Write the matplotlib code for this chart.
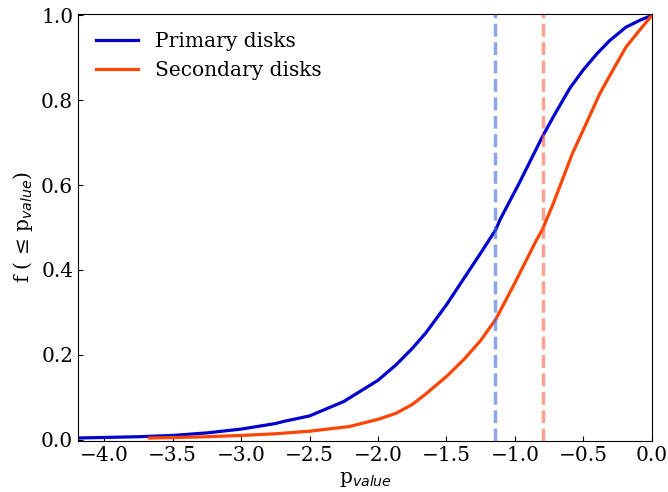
import numpy as np
import matplotlib.pyplot as plt

# cumulative fractions read per disk population
p_primary = [-4.19, -3.75, -3.5, -3.25, -3.0, -2.75, -2.69, -2.5, -2.25,
             -2.0, -1.87, -1.75, -1.65, -1.5, -1.25, -1.14, -1.11, -0.97, -0.8,
             -0.72, -0.6, -0.5, -0.4, -0.31, -0.19, -0.09, 0.0]
f_primary = [0.004, 0.007, 0.010, 0.016, 0.025, 0.038, 0.043, 0.056, 0.09,
             0.14, 0.176, 0.215, 0.252, 0.318, 0.44, 0.495, 0.518, 0.604, 0.714,
             0.761, 0.828, 0.872, 0.91, 0.94, 0.972, 0.988, 1.0]

p_secondary = [-3.67, -3.5, -3.25, -3.0, -2.75, -2.5, -2.21, -2.0, -1.87, -1.75,
               -1.65, -1.5, -1.37, -1.25, -1.14, -1.0, -0.844, -0.8, -0.72, -0.58,
               -0.48, -0.38, -0.285, -0.19, -0.09, 0.0]
f_secondary = [0.004, 0.005, 0.007, 0.010, 0.014, 0.02, 0.031, 0.048, 0.062, 0.083,
               0.108, 0.149, 0.19, 0.234, 0.284, 0.37, 0.47, 0.495, 0.557, 0.675,
               0.745, 0.816, 0.871, 0.925, 0.965, 1.0]

# medians of each sample
med_primary = -1.143
med_secondary = -0.796

plt.rcParams['font.family'] = 'DejaVu Serif'

fig = plt.figure(figsize=(6.68, 4.92), dpi=100)
ax = fig.add_axes([0.1168, 0.1037, 0.8592, 0.8678])

ax.plot(p_primary, f_primary, color='mediumblue', lw=2.3, label='Primary disks')
ax.plot(p_secondary, f_secondary, color='orangered', lw=2.3, label='Secondary disks')
ax.axvline(med_primary, color='royalblue', alpha=0.6, ls='--', lw=2.5)
ax.axvline(med_secondary, color='tomato', alpha=0.6, ls='--', lw=2.5)

ax.set_xlim(-4.19, 0.0)
ax.set_ylim(-0.003, 1.003)
ax.set_xticks(np.arange(-4.0, 0.01, 0.5))
ax.set_yticks(np.arange(0.0, 1.01, 0.2))
ax.tick_params(direction='in', labelsize=14.5)

ax.set_xlabel(r'p$_{value}$', fontsize=14.5)
ax.set_ylabel('f ( \u2264 p$_{value}$)', fontsize=14.5)

ax.legend(loc='upper left', frameon=False, fontsize=14.5, handlelength=2.1)

fig.savefig('out.png', dpi=100)
